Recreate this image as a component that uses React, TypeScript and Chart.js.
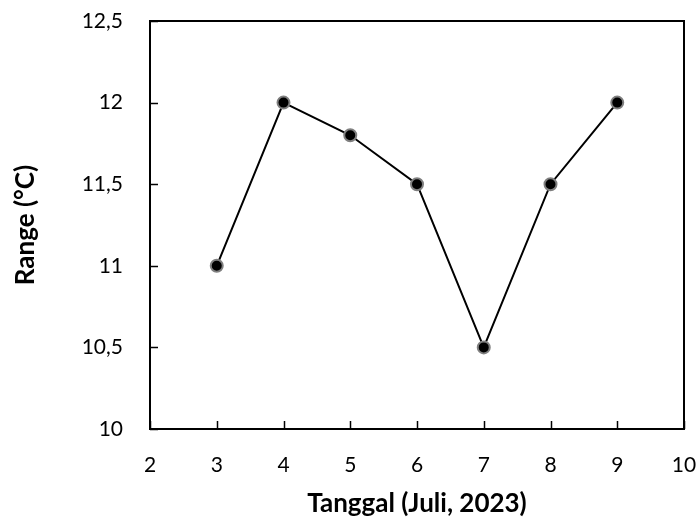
import React, { useEffect, useRef } from "react";
import { Chart, registerables } from "chart.js";

Chart.register(...registerables);

const days = [3, 4, 5, 6, 7, 8, 9];
const rangeValues = [11, 12, 11.8, 11.5, 10.5, 11.5, 12];
const xTitle = "Tanggal (Juli, 2023)";
const yTitle = "Range (°C)";

const boxPlugin = {
  id: "boxAndInnerTicks",
  afterDatasetsDraw(chart: any) {
    const { ctx, chartArea } = chart;
    const { left, right, top, bottom } = chartArea;
    ctx.save();
    ctx.strokeStyle = "#000";
    ctx.lineWidth = 1.5;
    const xs = chart.scales.x;
    const ys = chart.scales.y;
    const tl = 8;
    xs.ticks.forEach((t: any) => {
      const px = Math.round(xs.getPixelForValue(t.value)) + 0.5;
      ctx.beginPath();
      ctx.moveTo(px, bottom);
      ctx.lineTo(px, bottom - tl);
      ctx.stroke();
    });
    ys.ticks.forEach((t: any) => {
      const py = Math.round(ys.getPixelForValue(t.value)) + 0.5;
      ctx.beginPath();
      ctx.moveTo(left, py);
      ctx.lineTo(left + tl, py);
      ctx.stroke();
    });
    ctx.lineWidth = 2;
    ctx.strokeRect(left, top, right - left, bottom - top);
    ctx.restore();
  },
};

const zeroPad = (s: any) => {
  s.paddingTop = 0;
  s.paddingBottom = 0;
  s.paddingLeft = 0;
  s.paddingRight = 0;
};

export default function App() {
  const ref = useRef<HTMLCanvasElement | null>(null);
  useEffect(() => {
    if (!ref.current) return;
    Chart.defaults.font.family = "Lato";
    Chart.defaults.color = "#000";
    const chart = new Chart(ref.current, {
      type: "line",
      data: {
        datasets: [
          {
            data: days.map((d, i) => ({ x: d, y: rangeValues[i] })),
            borderColor: "#000",
            borderWidth: 2,
            pointRadius: 6,
            pointBorderWidth: 2,
            pointBackgroundColor: "#000",
            pointBorderColor: "#7f7f7f",
            tension: 0,
          },
        ],
      },
      options: {
        animation: false,
        responsive: false,
        maintainAspectRatio: false,
        layout: { padding: { top: 21, right: 13, left: 0, bottom: 0 } },
        plugins: { legend: { display: false }, tooltip: { enabled: false } },
        scales: {
          x: {
            type: "linear",
            min: 2,
            max: 10,
            grid: { display: false, drawTicks: false },
            border: { display: false },
            ticks: { stepSize: 1, padding: 24, font: { size: 21 }, maxRotation: 0 },
            title: {
              display: true,
              text: xTitle,
              font: { size: 26, weight: "bold" },
              padding: { top: 0, bottom: 0 },
            },
            afterFit: (s: any) => {
              s.height = 90;
              zeroPad(s);
            },
          },
          y: {
            min: 10,
            max: 12.5,
            grid: { display: false, drawTicks: false },
            border: { display: false },
            ticks: {
              stepSize: 0.5,
              padding: 27,
              font: { size: 21 },
              callback: (v: any) => String(v).replace(".", ","),
            },
            title: {
              display: true,
              text: yTitle,
              font: { size: 26, weight: "bold" },
              padding: { top: 10, bottom: 0 },
            },
            afterFit: (s: any) => {
              s.width = 150;
              zeroPad(s);
            },
          },
        },
      },
      plugins: [boxPlugin],
    });
    return () => chart.destroy();
  }, []);
  return (
    <div style={{ position: "absolute", left: 0, top: 0, width: 697, height: 519, background: "#fff" }}>
      <canvas ref={ref} width={697} height={519} style={{ display: "block" }} />
    </div>
  );
}
